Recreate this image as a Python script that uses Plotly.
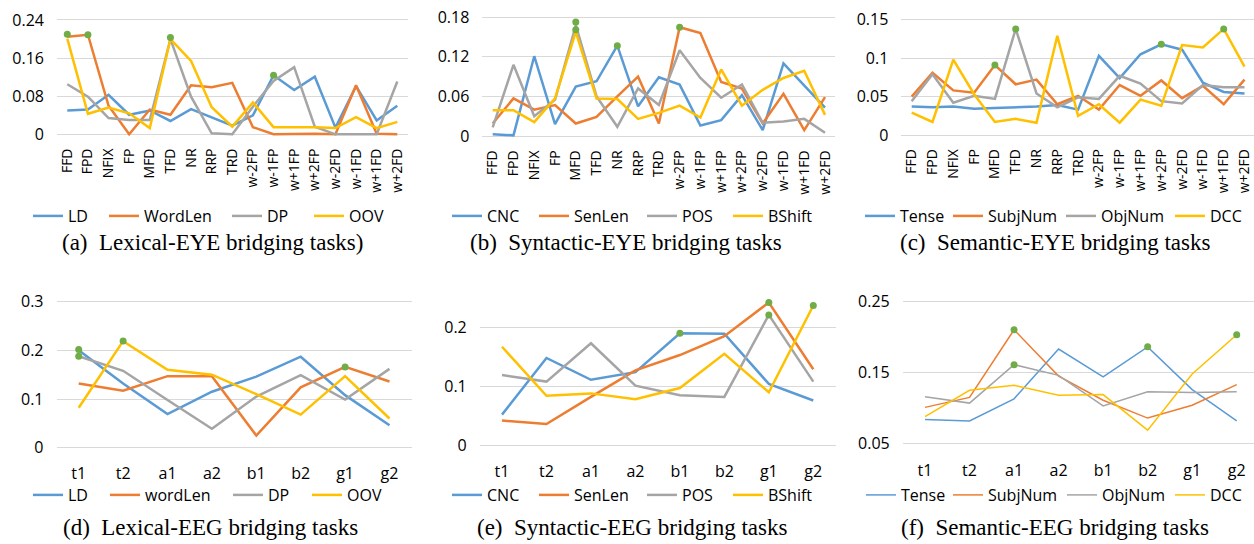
import plotly.graph_objects as go

W, H = 1254, 544

# ---------------- data ----------------
eye_cats = ["FFD", "FPD", "NFIX", "FP", "MFD", "TFD", "NR", "RRP", "TRD",
            "w-2FP", "w-1FP", "w+1FP", "w+2FP", "w-2FD", "w-1FD", "w+1FD", "w+2FD"]
eeg_cats = ["t1", "t2", "a1", "a2", "b1", "b2", "g1", "g2"]

# (a) Lexical-EYE
a_names = ["LD", "WordLen", "DP", "OOV"]
a_LD = [0.050, 0.052, 0.083, 0.041, 0.050, 0.028, 0.053, 0.036, 0.018, 0.040, 0.124, 0.093, 0.121, 0.014, 0.101, 0.029, 0.060]
a_WordLen = [0.205, 0.209, 0.060, 0.0, 0.052, 0.041, 0.103, 0.099, 0.108, 0.015, 0.0, 0.001, 0.001, 0.0, 0.103, 0.001, 0.0]
a_DP = [0.105, 0.079, 0.034, 0.030, 0.030, 0.200, 0.079, 0.002, 0.0, 0.058, 0.112, 0.141, 0.016, 0.0, 0.0, 0.0, 0.111]
a_OOV = [0.201, 0.043, 0.056, 0.044, 0.013, 0.200, 0.154, 0.057, 0.016, 0.067, 0.015, 0.015, 0.015, 0.013, 0.036, 0.013, 0.026]
a_hl_x = ["FFD", "FPD", "TFD", "w-1FP"]
a_hl_y = [0.210, 0.209, 0.203, 0.124]

# (b) Syntactic-EYE
b_names = ["CNC", "SenLen", "POS", "BShift"]
b_CNC = [0.0025, 0.001, 0.121, 0.018, 0.075, 0.083, 0.137, 0.045, 0.089, 0.078, 0.016, 0.024, 0.062, 0.009, 0.110, 0.076, 0.043]
b_SenLen = [0.019, 0.057, 0.040, 0.047, 0.019, 0.029, 0.060, 0.090, 0.019, 0.165, 0.156, 0.082, 0.072, 0.019, 0.064, 0.009, 0.059]
b_POS = [0.013, 0.108, 0.030, 0.055, 0.168, 0.060, 0.014, 0.072, 0.047, 0.130, 0.088, 0.058, 0.078, 0.020, 0.022, 0.026, 0.005]
b_BShift = [0.039, 0.039, 0.021, 0.057, 0.158, 0.057, 0.056, 0.026, 0.035, 0.046, 0.028, 0.101, 0.046, 0.070, 0.088, 0.099, 0.032]
b_hl_x = ["MFD", "MFD", "NR", "w-2FP"]
b_hl_y = [0.173, 0.161, 0.137, 0.165]

# (c) Semantic-EYE
c_names = ["Tense", "SubjNum", "ObjNum", "DCC"]
c_Tense = [0.037, 0.036, 0.037, 0.034, 0.035, 0.036, 0.037, 0.039, 0.033, 0.103, 0.074, 0.105, 0.118, 0.111, 0.068, 0.056, 0.054]
c_SubjNum = [0.050, 0.081, 0.058, 0.055, 0.091, 0.066, 0.072, 0.040, 0.051, 0.033, 0.065, 0.051, 0.071, 0.048, 0.064, 0.040, 0.072]
c_ObjNum = [0.044, 0.079, 0.042, 0.051, 0.047, 0.138, 0.054, 0.036, 0.049, 0.047, 0.077, 0.067, 0.044, 0.041, 0.065, 0.062, 0.062]
c_DCC = [0.029, 0.017, 0.098, 0.053, 0.017, 0.021, 0.016, 0.129, 0.025, 0.040, 0.016, 0.046, 0.038, 0.117, 0.114, 0.138, 0.089]
c_hl_x = ["MFD", "TFD", "w+2FP", "w+1FD"]
c_hl_y = [0.091, 0.138, 0.118, 0.138]

# (d) Lexical-EEG
d_names = ["LD", "wordLen", "DP", "OOV"]
d_LD = [0.200, 0.132, 0.069, 0.115, 0.146, 0.187, 0.108, 0.046]
d_wordLen = [0.132, 0.117, 0.147, 0.147, 0.025, 0.124, 0.166, 0.136]
d_DP = [0.188, 0.158, 0.098, 0.039, 0.105, 0.149, 0.099, 0.162]
d_OOV = [0.082, 0.219, 0.160, 0.150, 0.110, 0.068, 0.147, 0.060]
d_hl_x = ["t1", "t1", "t2", "g1"]
d_hl_y = [0.202, 0.188, 0.219, 0.166]

# (e) Syntactic-EEG
e_names = ["CNC", "SenLen", "POS", "BShift"]
e_CNC = [0.052, 0.148, 0.111, 0.124, 0.190, 0.189, 0.104, 0.076]
e_SenLen = [0.042, 0.036, 0.082, 0.127, 0.153, 0.185, 0.242, 0.129]
e_POS = [0.119, 0.108, 0.173, 0.101, 0.085, 0.082, 0.221, 0.108]
e_BShift = [0.167, 0.084, 0.088, 0.078, 0.097, 0.155, 0.090, 0.237]
e_hl_x = ["b1", "g1", "g1", "g2"]
e_hl_y = [0.190, 0.242, 0.221, 0.237]

# (f) Semantic-EEG
f_names = ["Tense", "SubjNum", "ObjNum", "DCC"]
f_Tense = [0.084, 0.082, 0.113, 0.183, 0.144, 0.186, 0.126, 0.082]
f_SubjNum = [0.101, 0.115, 0.210, 0.145, 0.111, 0.086, 0.104, 0.133]
f_ObjNum = [0.116, 0.107, 0.161, 0.146, 0.103, 0.123, 0.122, 0.123]
f_DCC = [0.088, 0.125, 0.132, 0.118, 0.119, 0.069, 0.148, 0.203]
f_hl_x = ["a1", "a1", "b2", "g2"]
f_hl_y = [0.210, 0.161, 0.186, 0.203]

# tick labels
a_ticks = [0, 0.08, 0.16, 0.24]; a_ticktext = ["0", "0.08", "0.16", "0.24"]
b_ticks = [0, 0.06, 0.12, 0.18]; b_ticktext = ["0", "0.06", "0.12", "0.18"]
c_ticks = [0, 0.05, 0.1, 0.15]; c_ticktext = ["0", "0.05", "0.1", "0.15"]
d_ticks = [0, 0.1, 0.2, 0.3]; d_ticktext = ["0", "0.1", "0.2", "0.3"]
e_ticks = [0, 0.1, 0.2]; e_ticktext = ["0", "0.1", "0.2"]
f_ticks = [0.05, 0.15, 0.25]; f_ticktext = ["0.05", "0.15", "0.25"]

captions = ["(a)\u00a0\u00a0Lexical-EYE bridging tasks)",
            "(b)\u00a0\u00a0Syntactic-EYE bridging tasks",
            "(c)\u00a0\u00a0Semantic-EYE bridging tasks",
            "(d)\u00a0\u00a0Lexical-EEG bridging tasks",
            "(e)\u00a0\u00a0Syntactic-EEG bridging tasks",
            "(f)\u00a0\u00a0Semantic-EEG bridging tasks"]

# ---------------- layout geometry (pixels) ----------------
colors = ["#5B9BD5", "#ED7D31", "#A5A5A5", "#FFC000"]
hl_color = "#70AD47"
FONT = "Open Sans"

panels = [
    dict(cats=eye_cats, names=a_names, series=[a_LD, a_WordLen, a_DP, a_OOV], hx=a_hl_x, hy=a_hl_y,
         x0=67.3, sp=20.625, yv=(0.24, 20.0, 0.0, 134.3), rng=[-0.005, 0.245], tv=a_ticks, tt=a_ticktext,
         lw=2.5, legx=[68, 144, 267, 349], legy=216, cap=(212, 242), rot=True),
    dict(cats=eye_cats, names=b_names, series=[b_CNC, b_SenLen, b_POS, b_BShift], hx=b_hl_x, hy=b_hl_y,
         x0=492.7, sp=20.77, yv=(0.18, 17.3, 0.0, 136.0), rng=[-0.004, 0.184], tv=b_ticks, tt=b_ticktext,
         lw=2.5, legx=[487, 574, 682, 768], legy=216, cap=(626, 242), rot=True),
    dict(cats=eye_cats, names=c_names, series=[c_Tense, c_SubjNum, c_ObjNum, c_DCC], hx=c_hl_x, hy=c_hl_y,
         x0=911.7, sp=20.8, yv=(0.15, 19.7, 0.0, 135.0), rng=[-0.003, 0.153], tv=c_ticks, tt=c_ticktext,
         lw=2.5, legx=[900, 988, 1101, 1210], legy=216, cap=(1055, 242), rot=True),
    dict(cats=eeg_cats, names=d_names, series=[d_LD, d_wordLen, d_DP, d_OOV], hx=d_hl_x, hy=d_hl_y,
         x0=78.7, sp=44.4, yv=(0.3, 301.7, 0.0, 447.7), rng=[-0.004, 0.304], tv=d_ticks, tt=d_ticktext,
         lw=2.5, legx=[68, 145, 268, 347], legy=495, cap=(210, 527), rot=False),
    dict(cats=eeg_cats, names=e_names, series=[e_CNC, e_SenLen, e_POS, e_BShift], hx=e_hl_x, hy=e_hl_y,
         x0=502.0, sp=44.47, yv=(0.2, 327.3, 0.0, 445.3), rng=[-0.004, 0.25], tv=e_ticks, tt=e_ticktext,
         lw=2.5, legx=[487, 574, 682, 768], legy=495, cap=(632, 527), rot=False),
    dict(cats=eeg_cats, names=f_names, series=[f_Tense, f_SubjNum, f_ObjNum, f_DCC], hx=f_hl_x, hy=f_hl_y,
         x0=925.0, sp=44.53, yv=(0.25, 301.3, 0.05, 443.7), rng=[0.046, 0.254], tv=f_ticks, tt=f_ticktext,
         lw=1.5, legx=[901, 988, 1102, 1210], legy=495, cap=(1055, 527), rot=False),
]

LEG_TEXT_OFFSET = 40  # px from legend left edge to its text


def ydomain(yv, rng):
    tv, tp, bv, bp = yv
    s = (bp - tp) / (tv - bv)
    top_px = bp - (rng[1] - bv) * s
    bot_px = bp - (rng[0] - bv) * s
    return [max(0.0, 1 - bot_px / H), min(1.0, 1 - top_px / H)]


def xdomain(x0, sp, n):
    left = x0 - 0.5 * sp
    right = x0 + (n - 0.5) * sp
    r_hi = n - 0.5
    if right > W:
        r_hi = (W - x0) / sp
        right = W
    return [left / W, right / W], [-0.5, r_hi]


fig = go.Figure()
layout = dict(template="none", width=W, height=H, margin=dict(l=0, r=0, t=0, b=0, autoexpand=False),
              paper_bgcolor="white", plot_bgcolor="white",
              font=dict(family=FONT, color="#000000"), annotations=[])

leg_id = 0
for i, p in enumerate(panels):
    k = "" if i == 0 else str(i + 1)
    xa, ya = "x" + k, "y" + k
    n = len(p["cats"])
    xd, xr = xdomain(p["x0"], p["sp"], n)
    yd = ydomain(p["yv"], p["rng"])
    for j, (name, vals, col) in enumerate(zip(p["names"], p["series"], colors)):
        leg_id += 1
        legname = "legend" if leg_id == 1 else "legend" + str(leg_id)
        fig.add_trace(go.Scatter(x=p["cats"], y=vals, name=name, mode="lines",
                                 line=dict(color=col, width=p["lw"]), xaxis=xa, yaxis=ya,
                                 legend=legname, cliponaxis=False))
        layout[legname] = dict(orientation="h", x=(p["legx"][j] - LEG_TEXT_OFFSET) / W,
                               y=1 - p["legy"] / H, xanchor="left", yanchor="middle",
                               bgcolor="rgba(0,0,0,0)", borderwidth=0,
                               font=dict(size=16, family=FONT, color="#000000"), itemwidth=30)
    fig.add_trace(go.Scatter(x=p["hx"], y=p["hy"], mode="markers", showlegend=False,
                             marker=dict(color=hl_color, size=7), xaxis=xa, yaxis=ya,
                             cliponaxis=False))
    layout["xaxis" + k] = dict(domain=xd, range=xr, anchor=ya, type="category",
                               categoryorder="array", categoryarray=p["cats"],
                               showgrid=False, showline=False, zeroline=False, ticks="",
                               automargin=False,
                               tickangle=-90 if p["rot"] else 0,
                               tickfont=dict(size=14 if p["rot"] else 16, family=FONT, color="#000000"),
                               ticklabelstandoff=8 if p["rot"] else 12, fixedrange=True)
    layout["yaxis" + k] = dict(domain=yd, range=p["rng"], anchor=xa,
                               tickvals=p["tv"], ticktext=p["tt"],
                               showgrid=True, gridcolor="#D9D9D9", gridwidth=1,
                               showline=False, zeroline=False, ticks="",
                               automargin=False,
                               tickfont=dict(size=16, family=FONT, color="#000000"),
                               ticklabelstandoff=12, fixedrange=True)
    layout["annotations"].append(dict(text=captions[i], x=p["cap"][0] / W, y=1 - p["cap"][1] / H,
                                      xref="paper", yref="paper", xanchor="center", yanchor="middle",
                                      showarrow=False,
                                      font=dict(family="Liberation Serif", size=23, color="#000000")))

fig.update_layout(**layout)
fig.write_html("out.html", config={"displayModeBar": False},
               post_script="document.body.style.margin='0px';document.body.style.overflow='hidden';")
